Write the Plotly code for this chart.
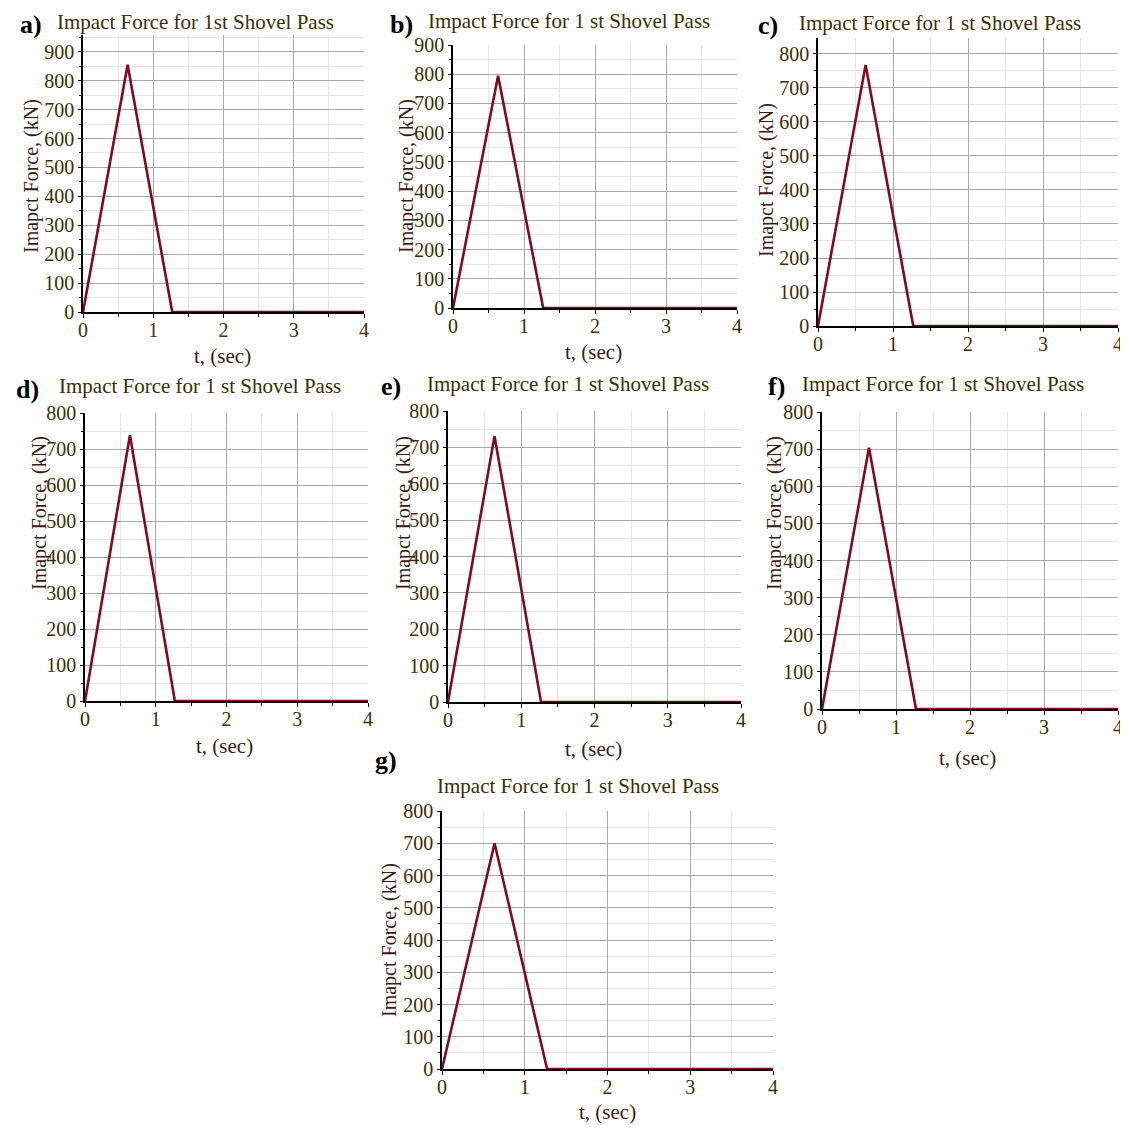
import plotly.graph_objects as go

W, H = 1128, 1131
OFF = 8  # page body margin shifts the figure by 8px right/down

# ---- data ----
panel_labels = ["a)", "b)", "c)", "d)", "e)", "f)", "g)"]
titles = ["Impact Force for 1st Shovel Pass"] + ["Impact Force for 1 st Shovel Pass"] * 6
time_s = [0.0, 0.635, 1.27, 4.0]
force_a = [0, 855, 0, 0]
force_b = [0, 795, 0, 0]
force_c = [0, 768, 0, 0]
force_d = [0, 738, 0, 0]
force_e = [0, 731, 0, 0]
force_f = [0, 704, 0, 0]
force_g = [0, 700, 0, 0]
forces = [force_a, force_b, force_c, force_d, force_e, force_f, force_g]
y_max = [958, 900, 847, 800, 800, 800, 800]
x_ticks = [0, 1, 2, 3, 4]
show_xtitle = [True, True, False, True, True, True, True]

# ---- layout (pixel boxes in the screenshot: left, right, top, bottom) ----
boxes = [
    (83, 364, 35, 312),
    (453, 737, 45, 308),
    (818, 1118, 38, 326),
    (85, 368, 413, 701),
    (448, 741, 411, 702),
    (822, 1118, 412, 709),
    (442, 773, 811, 1069),
]
title_pos = [(195, 22), (569, 21), (940, 23), (200, 386), (568, 384), (943, 384), (578, 786)]
label_pos = [(31, 24), (401, 24), (768, 25), (27, 389), (391, 387), (776, 387), (386, 761)]
ytitle_pos = [(31, 176), (406, 176), (767, 180), (39, 513), (403, 513), (774, 513), (389, 940)]
xtitle_pos = [(222, 356), (594, 352), (0, 0), (225, 746), (594, 749), (967, 758), (607, 1112)]

FONT = "Liberation Serif"
TICK_COL = "#3b3000"
TITLE_COL = "#3b3000"
YT_COL = "#3a1a12"
LINE_COL = "#820a1c"


def fx(px):
    return (px - OFF) / W


def fy(py):
    return 1 - (py - OFF) / H


fig = go.Figure()
annotations = []


def ann(px, py, text, size, color, angle=0):
    return dict(x=fx(px), y=fy(py), xref="paper", yref="paper",
                xanchor="center", yanchor="middle", text=text, showarrow=False,
                textangle=angle, font=dict(family=FONT, size=size, color=color))


for i in range(7):
    n = "" if i == 0 else str(i + 1)
    l, r, t, b = boxes[i]
    fig.add_trace(go.Scatter(
        x=time_s, y=forces[i], mode="lines",
        line=dict(color=LINE_COL, width=2.6),
        xaxis="x" + n, yaxis="y" + n, showlegend=False,
    ))
    xa = dict(
        domain=[fx(l), fx(r)], range=[0, 4], anchor="y" + n,
        tickvals=x_ticks, ticks="outside", ticklen=4, tickcolor="black",
        ticklabelstandoff=-5,
        showline=True, linecolor="black", linewidth=1.5,
        showgrid=True, gridcolor="#a8a8a8", gridwidth=1.3,
        zeroline=False, fixedrange=True,
        tickfont=dict(family=FONT, size=20, color=TICK_COL),
        minor=dict(dtick=0.5, showgrid=True, gridcolor="#e6e6e6", gridwidth=1.3,
                   ticks="outside", ticklen=3, tickcolor="black"),
    )
    ya = dict(
        domain=[fy(b), fy(t)], range=[0, y_max[i]], anchor="x" + n,
        dtick=100, ticks="outside", ticklen=3, tickcolor="black",
        showline=True, linecolor="black", linewidth=1.5,
        showgrid=True, gridcolor="#a8a8a8", gridwidth=1.3,
        zeroline=False, fixedrange=True,
        tickfont=dict(family=FONT, size=20, color=TICK_COL),
        minor=dict(dtick=50, showgrid=True, gridcolor="#e6e6e6", gridwidth=1.3,
                   ticks="outside", ticklen=2, tickcolor="black"),
    )
    fig.layout["xaxis" + n] = xa
    fig.layout["yaxis" + n] = ya

    annotations.append(ann(*title_pos[i], titles[i], 21, TITLE_COL))
    annotations.append(ann(*label_pos[i], "<b>" + panel_labels[i] + "</b>", 26, "black"))
    annotations.append(ann(*ytitle_pos[i], "Imapct Force, (kN)", 20, YT_COL, -90))
    if show_xtitle[i]:
        annotations.append(ann(*xtitle_pos[i], "t, (sec)", 21, YT_COL))

fig.update_layout(
    width=W, height=H, margin=dict(l=0, r=0, t=0, b=0, pad=0, autoexpand=False),
    paper_bgcolor="white", plot_bgcolor="white",
    annotations=annotations,
)

fig.write_html("out.html")
